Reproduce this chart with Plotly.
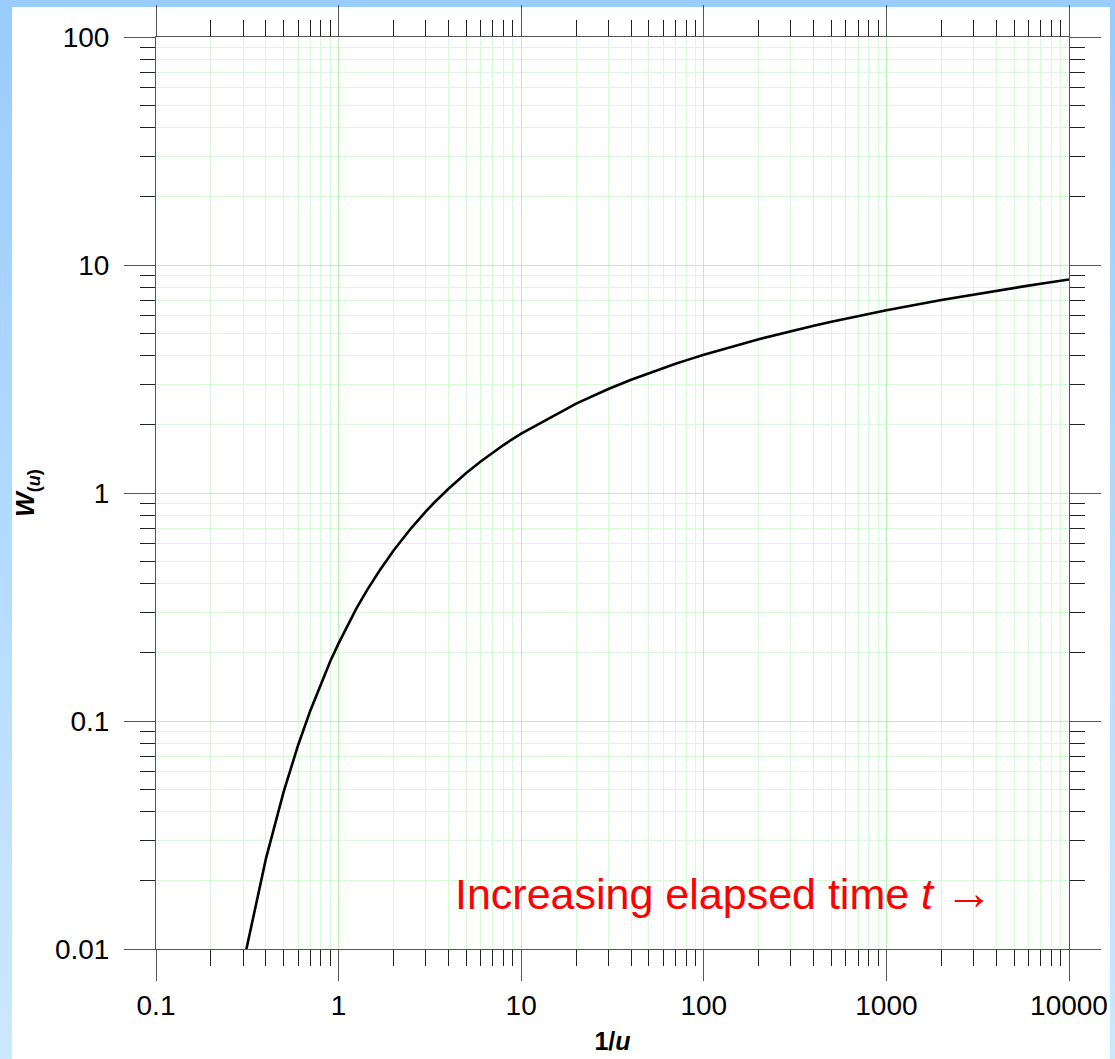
import plotly.graph_objects as go

# 1/u values and Theis well function W(u)
inv_u = [0.3, 0.4, 0.5, 0.6, 0.7, 0.8, 0.9,
         1, 1.111, 1.25, 1.429, 1.667, 2, 2.5, 3, 3.333, 4, 5, 6, 7, 8, 9,
         10, 20, 30, 40, 50, 60, 70, 80, 90,
         100, 200, 300, 400, 500, 600, 700, 800, 900,
         1000, 2000, 3000, 4000, 5000, 6000, 7000, 8000, 9000,
         10000]
W_u = [0.00857, 0.0249, 0.0489, 0.0783, 0.111, 0.146, 0.183,
       0.219, 0.260, 0.311, 0.374, 0.454, 0.560, 0.702, 0.829, 0.906, 1.044, 1.223, 1.375, 1.507, 1.623, 1.728,
       1.823, 2.468, 2.857, 3.137, 3.355, 3.534, 3.686, 3.817, 3.934,
       4.038, 4.726, 5.130, 5.417, 5.639, 5.821, 5.975, 6.109, 6.226,
       6.332, 7.024, 7.429, 7.717, 7.940, 8.122, 8.277, 8.410, 8.528,
       8.633]

x_ticks = [0.1, 1, 10, 100, 1000, 10000]
x_ticktext = ["0.1", "1", "10", "100", "1000", "10000"]
y_ticks = [0.01, 0.1, 1, 10, 100]
y_ticktext = ["0.01", "0.1", "1", "10", "100"]

x_minor = [m * d for d in [0.1, 1, 10, 100, 1000] for m in range(2, 10)]
y_minor = [m * d for d in [0.01, 0.1, 1, 10] for m in range(2, 10)]

FONT = "Liberation Sans, Arial, sans-serif"
W, H = 1115, 1059
L, R, T, B = 156, 46, 37, 110
pw, ph = W - L - R, H - T - B

fig = go.Figure()
fig.add_trace(go.Scatter(x=inv_u, y=W_u, mode="lines",
                         line=dict(color="black", width=2.6),
                         showlegend=False, hoverinfo="skip"))

grad_svg = ("data:image/svg+xml;utf8,"
            "<svg xmlns='http://www.w3.org/2000/svg' width='100' height='100' preserveAspectRatio='none'>"
            "<defs><linearGradient id='g' x1='0' y1='0' x2='0' y2='1'>"
            "<stop offset='0' stop-color='%2399ccff'/><stop offset='1' stop-color='%23cce8ff'/>"
            "</linearGradient></defs><rect width='100' height='100' fill='url(%23g)'/></svg>")

fig.add_layout_image(dict(source=grad_svg, xref="paper", yref="paper",
                          x=-L / pw, y=1 + T / ph, sizex=W / pw, sizey=H / ph,
                          sizing="stretch", xanchor="left", yanchor="top", layer="below"))

fig.add_shape(type="rect", xref="paper", yref="paper",
              x0=(12 - L) / pw, x1=(1110 - L) / pw,
              y0=(ph + T - 7) / ph, y1=-0.3,
              fillcolor="white", line=dict(width=0), layer="below")

axis_common = dict(
    type="log", showline=True, linecolor="#555555", linewidth=1, mirror="ticks",
    ticks="outside", ticklen=31, tickcolor="#555555", tickwidth=1,
    showgrid=True, gridcolor="#b8f0b8", gridwidth=1, zeroline=False,
    tickfont=dict(family=FONT, size=28, color="black"),
)

fig.update_xaxes(**axis_common, range=[-1, 4], tickmode="array",
                 tickvals=x_ticks, ticktext=x_ticktext,
                 minor=dict(tickmode="array", tickvals=x_minor, ticks="outside",
                            ticklen=16, tickcolor="#222222", showgrid=True,
                            gridcolor="#d8fad8", gridwidth=1),
                 title=dict(text="<b>1/<i>u</i></b>", font=dict(family=FONT, size=25, color="black"),
                            standoff=12),
                 automargin=False)
fig.update_yaxes(**axis_common, range=[-2, 2], tickmode="array",
                 tickvals=y_ticks, ticktext=y_ticktext,
                 minor=dict(tickmode="array", tickvals=y_minor, ticks="outside",
                            ticklen=15, tickcolor="#222222", showgrid=True,
                            gridcolor="#d8fad8", gridwidth=1),
                 title=dict(text="<b><i>W</i><sub>(<i>u</i>)</sub></b>",
                            font=dict(family=FONT, size=26, color="black"), standoff=12),
                 ticklabelstandoff=9,
                 automargin=False)

fig.add_annotation(xref="paper", yref="paper", x=(453 - L) / pw, y=(ph + T - 892) / ph,
                   xanchor="left", yanchor="middle", showarrow=False,
                   text="Increasing elapsed time <i>t</i> <span style='font-size:48px'>→</span>",
                   font=dict(family=FONT, size=43, color="red"))

fig.update_layout(width=W, height=H, margin=dict(l=L, r=R, t=T, b=B),
                  paper_bgcolor="#99ccff", plot_bgcolor="white",
                  font=dict(family=FONT))

fig.write_html("out.html", config={"displayModeBar": False},
               post_script="document.body.style.margin='0';document.body.style.padding='0';")
